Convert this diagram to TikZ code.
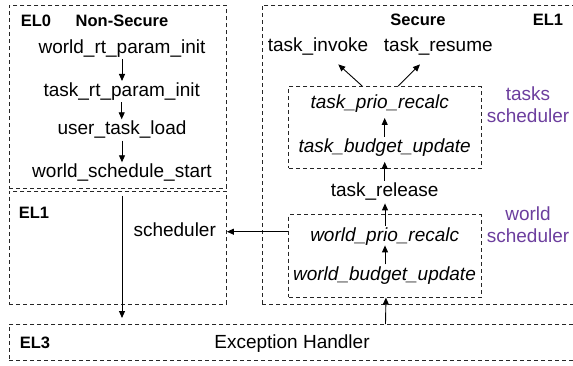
\documentclass[tikz,border=0pt]{standalone}
\usepackage{fontspec}
\setmainfont{Liberation Sans}
\usetikzlibrary{arrows.meta}
\definecolor{schedpurple}{RGB}{108,62,158}
\tikzset{
  region/.style={draw=black!85, line width=0.9pt, dash pattern=on 4pt off 3pt,
    rectangle, inner sep=0pt, anchor=north west},
  lbl/.style={font=\fontsize{16.5}{19}\selectfont\bfseries, anchor=base, inner sep=0pt},
  fn/.style={font=\fontsize{19}{22}\selectfont, anchor=base, inner xsep=1pt,
    inner ysep=1.5pt, text height=14pt, text depth=4pt},
  ifn/.style={fn, font=\fontsize{19}{22}\selectfont\itshape},
  sched/.style={font=\fontsize{19}{22.3}\selectfont, text=schedpurple, align=center,
    anchor=base, inner sep=0pt},
  arr/.style={line width=0.9pt, -{Triangle[length=7pt,width=6pt]}},
}
\begin{document}
\begin{tikzpicture}[x=1pt, y=-1pt]
\useasboundingbox (0,0) rectangle (573,366);
\clip (0,0) rectangle (573,366);

% exception-level regions
\node[region, minimum width=217pt, minimum height=183pt] (el0box) at (9,5) {};
\node[region, minimum width=217pt, minimum height=113pt] (el1box) at (9,191) {};
\node[region, minimum width=340pt, minimum height=299pt] (secbox) at (262,5) {};
\node[region, minimum width=600pt, minimum height=36pt] (el3box) at (9,324) {};
% scheduler groups
\node[region, minimum width=192.4pt, minimum height=81.7pt] (tsbox) at (288.3,86) {};
\node[region, minimum width=192.4pt, minimum height=82.4pt] (wsbox) at (288.3,214.3) {};

% region labels
\node[lbl] (el0lab) at (36,26.7) {EL0};
\node[lbl] (nslab) at (122,26.7) {Non-Secure};
\node[lbl] (el1lab) at (34,218.3) {EL1};
\node[lbl] (seclab) at (418,26) {Secure};
\node[lbl] (el1rlab) at (548,26) {EL1};
\node[lbl] (el3lab) at (35,348.3) {EL3};

% non-secure side
\node[fn] (wrpi) at (122,53.3) {world\_rt\_param\_init};
\node[fn] (trpi) at (121.7,96.7) {task\_rt\_param\_init};
\node[fn] (utl) at (122,135) {user\_task\_load};
\node[fn] (wss) at (122,178) {world\_schedule\_start};
\node[fn] (schedn) at (174.7,236.7) {scheduler};
\coordinate (dstart) at (122,196);

% secure side
\node[fn] (ti) at (318,51.7) {task\_invoke};
\node[fn] (tr) at (438.3,51.7) {task\_resume};
\node[ifn] (tpr) at (379.7,108.3) {task\_prio\_recalc};
\node[ifn] (tbu) at (384.7,152.7) {task\_budget\_update};
\node[fn] (trel) at (384.7,196.7) {task\_release};
\node[ifn] (wpr) at (384.7,241.7) {world\_prio\_recalc};
\node[ifn] (wbu) at (384.5,280) {world\_budget\_update};

\node[sched] (tslab) at (528,123) {tasks\\scheduler};
\node[sched] (wslab) at (528,242.7) {world\\scheduler};

\node[fn] (exh) at (292,348.3) {Exception Handler};

% non-secure flow
\draw[arr] (wrpi.south) -- (wrpi.south |- trpi.north);
\draw[arr] (trpi.south) -- (trpi.south |- utl.north);
\draw[arr] (utl.south) -- (utl.south |- wss.north);
\draw[arr, shorten >=6pt] (dstart) -- (dstart |- el3box.north);

% secure flow
\draw[arr] ([xshift=1pt]el3box.north -| wbu) -- ([xshift=1pt]wsbox.south);
\draw[arr, shorten >=-2pt] ([xshift=0.5pt]wbu.north) -- ([xshift=0.5pt]wbu.north |- wpr.south);
\draw[arr, shorten >=1pt] ([xshift=0.3pt]wpr.north) -- ([xshift=0.3pt]wpr.north |- trel.south);
\draw[arr, shorten >=3.5pt] (trel.north) -- (trel.north |- tbu.south);
\draw[arr, shorten >=4pt] (tbu.north) -- (tbu.north |- tpr.south);
\draw[arr] ([xshift=-22.8pt]tsbox.north) -- ([xshift=20.3pt,yshift=-7pt]ti.south);
\draw[arr] ([xshift=13.2pt]tsbox.north) -- ([xshift=-18.3pt,yshift=-7pt]tr.south);
\draw[arr] (wsbox.west |- schedn) -- (el1box.east |- schedn);
\end{tikzpicture}
\end{document}
